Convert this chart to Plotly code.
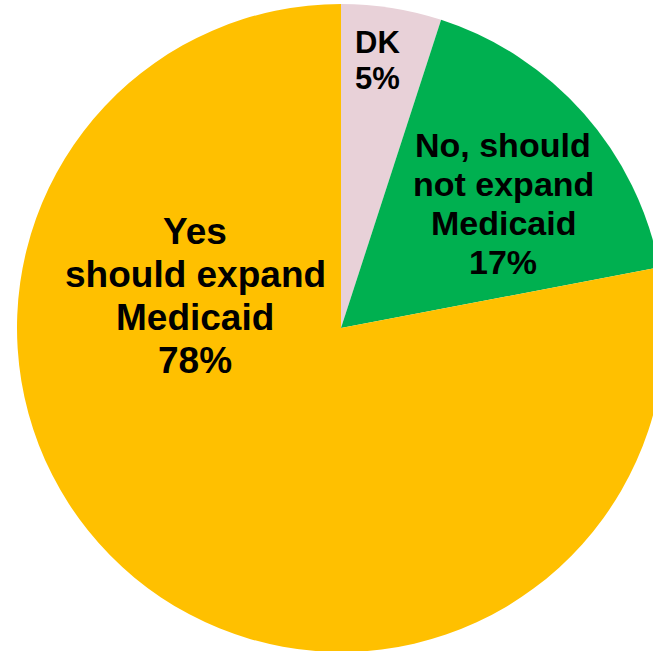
import plotly.graph_objects as go

# ---- data ----
categories = ["DK", "No, should not expand Medicaid", "Yes should expand Medicaid"]
values = [5, 17, 78]
label_lines = [["DK"], ["No, should", "not expand", "Medicaid"], ["Yes", "should expand", "Medicaid"]]
colors = ["#E8D1D8", "#00B050", "#FFC000"]

# ---- layout geometry (pixels) ----
W, H = 682, 652
ML, MR, MT, MB = 17, 17, 4, 0
PW, PH = W - ML - MR, H - MT - MB

# label placement: (center x px, first-line center y px, line step px, font size)
label_pos = [
    (377, 42, 37, 31),
    (503, 145, 39, 34),
    (195, 231, 43, 37),
]

fig = go.Figure(go.Pie(
    labels=categories,
    values=values,
    sort=False,
    direction="clockwise",
    rotation=0,
    marker=dict(colors=colors, line=dict(width=0)),
    textinfo="none",
    hoverinfo="label+percent",
    showlegend=False,
))

annotations = []
for lines, val, (cx, cy, step, fs) in zip(label_lines, values, label_pos):
    all_lines = lines + [f"{val}%"]
    for i, t in enumerate(all_lines):
        py = cy + i * step
        annotations.append(dict(
            x=(cx - ML) / PW, y=1 - (py - MT) / PH,
            xref="paper", yref="paper",
            text=f"<b>{t}</b>", showarrow=False,
            xanchor="center", yanchor="middle",
            font=dict(family="Liberation Sans, Arial, sans-serif", size=fs, color="black"),
        ))

fig.update_layout(
    width=W, height=H,
    margin=dict(l=ML, r=MR, t=MT, b=MB, pad=0),
    paper_bgcolor="white", plot_bgcolor="white",
    annotations=annotations,
)

fig.write_html(
    "out.html",
    config={"displayModeBar": False},
    post_script="document.body.style.margin='0';document.body.style.overflow='hidden';document.documentElement.style.overflow='hidden';",
)
